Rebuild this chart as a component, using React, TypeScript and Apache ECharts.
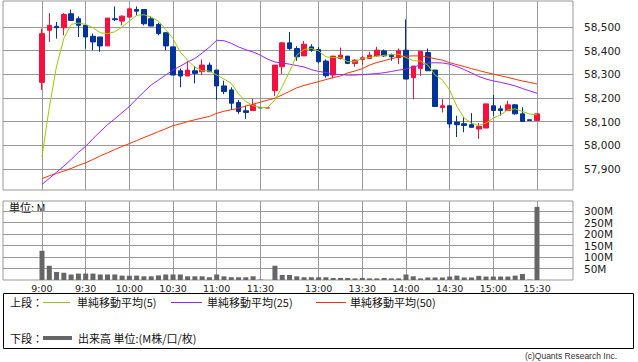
import React, { useEffect, useRef } from "react";
import * as echarts from "echarts";

// ---------- data ----------
const categories: string[] = [
  "9:00","9:05","9:10","9:15","9:20","9:25","9:30","9:35","9:40","9:45","9:50","9:55",
  "10:00","10:05","10:10","10:15","10:20","10:25","10:30","10:35","10:40","10:45","10:50","10:55",
  "11:00","11:05","11:10","11:15","11:20","11:25","11:30","",
  "12:30","12:35","12:40","12:45","12:50","12:55",
  "13:00","13:05","13:10","13:15","13:20","13:25","13:30","13:35","13:40","13:45","13:50","13:55",
  "14:00","14:05","14:10","14:15","14:20","14:25","14:30","14:35","14:40","14:45","14:50","14:55",
  "15:00","15:05","15:10","15:15","15:20","15:25","15:30",
];
const labelTimes: string[] = ["9:00","9:30","10:00","10:30","11:00","11:30","13:00","13:30","14:00","14:30","15:00","15:30"];

// [open, close, low, high]
const ohlc: number[][] = [
  [58266,58472,58234,58493],[58486,58507,58437,58559],[58503,58497,58451,58521],[58497,58553,58465,58559],
  [58556,58528,58525,58574],[58535,58507,58458,58545],[58507,58458,58409,58507],[58461,58437,58402,58472],
  [58458,58420,58395,58458],[58420,58538,58420,58538],[58535,58531,58525,58587],[58525,58546,58507,58549],
  [58542,58577,58542,58577],[58574,58567,58549,58587],[58574,58514,58507,58574],[58535,58504,58504,58545],
  [58511,58472,58465,58518],[58476,58420,58402,58476],[58416,58297,58297,58416],[58315,58293,58245,58325],
  [58293,58318,58293,58357],[58315,58304,58262,58335],[58311,58339,58297,58363],[58339,58311,58311,58350],
  [58318,58251,58192,58318],[58251,58227,58216,58273],[58234,58178,58150,58245],[58181,58143,58133,58192],
  [58146,58139,58112,58167],[58147,58171,58147,58196],[58160,58158,58158,58160],[58158,58158,58158,58158],
  [58231,58339,58209,58339],[58332,58433,58301,58437],[58433,58409,58402,58479],[58409,58374,58357,58419],
  [58378,58427,58378,58441],[58416,58402,58395,58427],[58405,58353,58346,58416],[58356,58294,58286,58363],
  [58297,58377,58283,58377],[58367,58381,58363,58413],[58377,58346,58343,58377],[58346,58360,58332,58363],
  [58363,58370,58339,58377],[58367,58381,58367,58395],[58378,58402,58374,58416],[58399,58378,58374,58405],
  [58381,58374,58357,58388],[58371,58399,58343,58409],[58402,58280,58280,58532],[58286,58335,58195,58335],
  [58325,58398,58293,58398],[58392,58315,58315,58409],[58318,58164,58164,58318],[58160,58167,58139,58195],
  [58167,58090,58073,58167],[58098,58087,58035,58125],[58091,58084,58055,58120],[58087,58076,58076,58136],
  [58069,58080,58027,58094],[58073,58175,58073,58175],[58167,58147,58125,58213],[58154,58147,58126,58168],
  [58147,58171,58147,58188],[58171,58133,58129,58175],[58133,58101,58101,58161],[58108,58105,58105,58108],
  [58105,58133,58105,58133],
];

const ma5: number[] = [
  57952,58159,58335,58452,58511,58517,58511,58497,58476,58472,58480,58500,58525,58549,58552,58542,
  58525,58489,58451,58394,58360,58330,58315,58314,58297,58280,58262,58217,58185,58167,58160,58160,
  58192,58248,58311,58381,58405,58409,58399,58374,58371,58371,58353,58353,58367,58371,58377,58380,
  58384,58385,58371,58358,58356,58339,58297,58276,58234,58164,58115,58094,58084,58094,58115,58129,
  58150,58154,58143,58132,58129,
];
const ma25: number[] = [
  57835,57860,57886,57912,57940,57970,57996,58028,58058,58087,58112,58138,58164,58196,58226,58255,
  58276,58297,58318,58335,58352,58367,58390,58415,58444,58442,58431,58416,58404,58394,58381,58364,
  58352,58348,58343,58337,58331,58320,58312,58308,58301,58299,58297,58297,58299,58301,58303,58307,
  58312,58318,58322,58331,58339,58348,58349,58348,58343,58333,58320,58306,58291,58280,58272,58266,
  58259,58251,58240,58230,58220,
];
const ma50: number[] = [
  57859,57871,57881,57891,57902,57915,57926,57940,57955,57968,57982,57995,58007,58020,58033,58045,
  58058,58070,58083,58091,58100,58108,58115,58122,58135,58144,58150,58157,58166,58174,58182,58191,
  58199,58213,58228,58243,58253,58261,58269,58278,58286,58293,58306,58314,58324,58339,58350,58358,
  58366,58373,58377,58378,58378,58373,58366,58360,58349,58341,58333,58324,58316,58308,58301,58294,
  58287,58279,58272,58266,58259,
];
// volume in M
const volume: number[] = [
  127,62,35,31,24,28,28,28,24,24,24,19,19,19,16,16,20,24,24,24,16,16,16,12,24,16,12,12,12,16,2,0,
  62,22,22,16,12,12,12,12,9,9,9,7,9,7,7,9,7,7,24,16,7,11,11,11,15,19,11,11,18,15,15,15,15,19,26,2,318,
];

const priceMin = 57811;
const priceMax = 58610;
const priceTickMin = 57900;
const priceTickMax = 58500;
const volMax = 343.5;
const volTickMin = 50;
const volTickMax = 300;

// ---------- styles ----------
const GRID = "#999999";
const UP = "#f5103f";
const DOWN = "#003399";
const C5 = "#99cc00";
const C25 = "#9922ff";
const C50 = "#ff3300";
const VOLC = "#666666";
const NUMFONT = "'DejaVu Sans', sans-serif";
const JPFONT = "'Noto Sans CJK JP', sans-serif";

export default function App() {
  const ref = useRef<HTMLDivElement>(null);
  useEffect(() => {
    if (!ref.current) return;
    const chart = echarts.init(ref.current, null, { renderer: "svg" });
    const labelIdx = new Set<number>();
    categories.forEach((c, i) => { if (labelTimes.includes(c)) labelIdx.add(i); });
    const showAt = (i: number) => labelIdx.has(i);

    const dataLeft = 42;
    const dataWidth = 495;
    const L = 3;
    const W = 570;

    const hiddenX = (gi: number) => ({ type: "value", gridIndex: gi, show: false, min: 0, max: 1 });

    const option: any = {
      animation: false,
      backgroundColor: "#ffffff",
      grid: [
        { left: dataLeft, top: 1, width: dataWidth, height: 189 },
        { left: L, top: 1, width: W, height: 189, show: true, borderColor: GRID, borderWidth: 1 },
        { left: L, top: 27, width: W, height: 142 },
        { left: dataLeft, top: 201, width: dataWidth, height: 79 },
        { left: L, top: 201, width: W, height: 79, show: true, borderColor: GRID, borderWidth: 1 },
        { left: L, top: 211, width: W, height: 57.5 },
      ],
      xAxis: [
        {
          type: "category", gridIndex: 0, data: categories, boundaryGap: false,
          axisLine: { show: false }, axisTick: { show: false }, axisLabel: { show: false },
          splitLine: { show: true, interval: (i: number) => showAt(i), lineStyle: { color: GRID, width: 1 } },
        },
        hiddenX(1),
        hiddenX(2),
        {
          type: "category", gridIndex: 3, data: categories, boundaryGap: false,
          axisLine: { show: false }, axisTick: { show: false },
          axisLabel: {
            show: true, interval: (i: number) => showAt(i), margin: 3,
            color: "#222", fontSize: 9.5, fontFamily: NUMFONT,
          },
          splitLine: { show: true, interval: (i: number) => showAt(i), lineStyle: { color: GRID, width: 1 } },
        },
        hiddenX(4),
        hiddenX(5),
      ],
      yAxis: [
        { type: "value", gridIndex: 0, min: priceMin, max: priceMax, show: false },
        { type: "value", gridIndex: 1, show: false, min: 0, max: 1 },
        {
          type: "value", gridIndex: 2, position: "right", min: priceTickMin, max: priceTickMax, interval: 100,
          axisLine: { show: false },
          axisTick: { show: true, length: 7, lineStyle: { color: GRID } },
          axisLabel: {
            margin: 11, color: "#222", fontSize: 10.5, fontFamily: NUMFONT,
            formatter: (v: number) => v.toLocaleString("en-US"),
          },
          splitLine: { show: true, lineStyle: { color: GRID, width: 1 } },
        },
        { type: "value", gridIndex: 3, min: 0, max: volMax, show: false },
        { type: "value", gridIndex: 4, show: false, min: 0, max: 1 },
        {
          type: "value", gridIndex: 5, position: "right", min: volTickMin, max: volTickMax, interval: 50,
          axisLine: { show: false },
          axisTick: { show: true, length: 7, lineStyle: { color: GRID } },
          axisLabel: {
            margin: 11, color: "#222", fontSize: 10.5, fontFamily: NUMFONT,
            formatter: (v: number) => v + "M",
          },
          splitLine: { show: true, lineStyle: { color: GRID, width: 1 } },
        },
      ],
      series: [
        {
          type: "candlestick", xAxisIndex: 0, yAxisIndex: 0, data: ohlc, barWidth: 5, clip: false,
          itemStyle: { color: UP, color0: DOWN, borderColor: UP, borderColor0: DOWN, borderWidth: 1 },
        },
        { type: "line", xAxisIndex: 0, yAxisIndex: 0, data: ma50, symbol: "none", lineStyle: { color: C50, width: 1 }, z: 3 },
        { type: "line", xAxisIndex: 0, yAxisIndex: 0, data: ma25, symbol: "none", lineStyle: { color: C25, width: 1 }, z: 3 },
        { type: "line", xAxisIndex: 0, yAxisIndex: 0, data: ma5, symbol: "none", lineStyle: { color: C5, width: 1 }, z: 4 },
        {
          type: "bar", xAxisIndex: 3, yAxisIndex: 3, data: volume, barWidth: 5, clip: false,
          itemStyle: { color: VOLC },
        },
      ],
      graphic: [
        {
          type: "text", left: 9, top: 201,
          style: { text: "単位: M", fill: "#111", font: `11px ${JPFONT}` },
        },
        {
          type: "rect", shape: { x: 3.5, y: 293.5, width: 630, height: 55 },
          style: { fill: "none", stroke: "#000", lineWidth: 1 },
        },
        { type: "text", x: 10, y: 302, style: { text: "上段：", fill: "#111", font: `11px ${JPFONT}`, verticalAlign: "middle" } },
        { type: "line", shape: { x1: 43, y1: 302.5, x2: 70, y2: 302.5 }, style: { stroke: C5, lineWidth: 1 } },
        { type: "text", x: 77, y: 302, style: { text: "単純移動平均(5)", fill: "#111", font: `11px ${JPFONT}`, verticalAlign: "middle" } },
        { type: "line", shape: { x1: 171, y1: 302.5, x2: 202, y2: 302.5 }, style: { stroke: C25, lineWidth: 1 } },
        { type: "text", x: 207, y: 302, style: { text: "単純移動平均(25)", fill: "#111", font: `11px ${JPFONT}`, verticalAlign: "middle" } },
        { type: "line", shape: { x1: 316, y1: 302.5, x2: 346, y2: 302.5 }, style: { stroke: C50, lineWidth: 1 } },
        { type: "text", x: 350, y: 302, style: { text: "単純移動平均(50)", fill: "#111", font: `11px ${JPFONT}`, verticalAlign: "middle" } },
        { type: "text", x: 10, y: 338, style: { text: "下段：", fill: "#111", font: `11px ${JPFONT}`, verticalAlign: "middle" } },
        { type: "line", shape: { x1: 43, y1: 338, x2: 72, y2: 338 }, style: { stroke: VOLC, lineWidth: 4 } },
        { type: "text", x: 78, y: 338, style: { text: "出来高 単位:(M株/口/枚)", fill: "#111", font: `11px ${JPFONT}`, verticalAlign: "middle" } },
        {
          type: "text", x: 617, y: 356,
          style: { text: "(c)Quants Research Inc.", fill: "#333", font: `8.5px 'Liberation Sans', sans-serif`, align: "right", verticalAlign: "middle" },
        },
      ],
    };
    chart.setOption(option);
    return () => chart.dispose();
  }, []);
  return (
    <div
      ref={ref}
      style={{ position: "fixed", left: 0, top: 0, width: 638, height: 362, background: "#fff" }}
    />
  );
}
